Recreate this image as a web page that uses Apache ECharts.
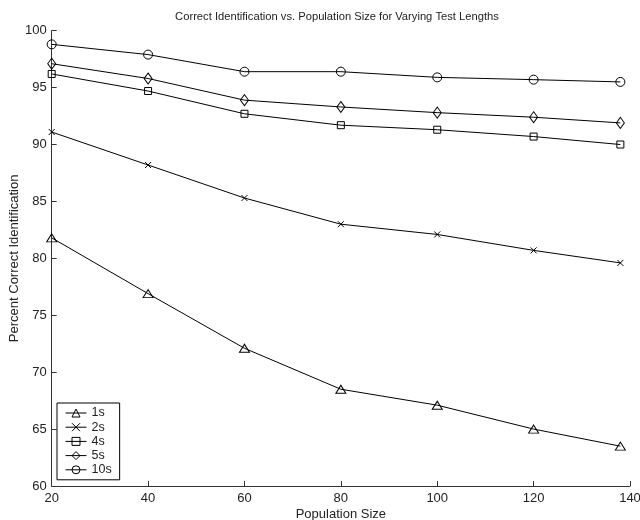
<!DOCTYPE html>
<html>
<head>
<meta charset="utf-8">
<script src="https://cdn.jsdelivr.net/npm/echarts@6/dist/echarts.min.js"></script>
<style>
  html, body { margin: 0; padding: 0; background: #fff; }
  #chart { width: 640px; height: 520px; }
</style>
</head>
<body>
<div id="chart"></div>
<script>
// population sizes on the x axis
let popSizes = [20, 40, 60, 80, 100, 120, 138]

// percent correct identification per test length
let s1 = [81.8, 76.9, 72.1, 68.5, 67.1, 65.0, 63.5]
let s2 = [91.1, 88.2, 85.3, 83.0, 82.1, 80.7, 79.6]
let s4 = [96.2, 94.7, 92.7, 91.7, 91.3, 90.7, 90.0]
let s5 = [97.1, 95.8, 93.9, 93.3, 92.8, 92.4, 91.9]
let s10 = [98.8, 97.9, 96.4, 96.4, 95.9, 95.7, 95.5]

let seriesNames = ['1s', '2s', '4s', '5s', '10s']

let font = 'Liberation Sans, Arial, sans-serif'
let xMark = 'path://M0,0L10,10M10,0L0,10'

function pairs(vals){
	return vals.map(function(v, i){ return [popSizes[i], v] })
}

function mkSeries(name, vals, symbol, size){
	return {
		name: name,
		type: 'line',
		data: pairs(vals),
		symbol: symbol,
		symbolSize: size,
		showAllSymbol: true,
		lineStyle: { color: '#000', width: 1 },
		itemStyle: { color: 'rgba(0,0,0,0)', borderColor: '#000', borderWidth: 1 },
		emphasis: { disabled: true },
		animation: false
	}
}

let myChart = echarts.init(document.getElementById('chart'))
let option = {
	backgroundColor: '#fff',
	animation: false,
	title: {
		text: 'Correct Identification vs. Population Size for Varying Test Lengths',
		left: 332,
		top: 6,
		textAlign: 'center',
		textStyle: { fontFamily: font, fontSize: 11.2, fontWeight: 'normal', color: '#222' }
	},
	legend: {
		orient: 'vertical',
		left: 57,
		top: 403,
		data: seriesNames,
		padding: [3.5, 8, 3.5, 8],
		itemWidth: 21,
		itemHeight: 10,
		itemGap: 1.2,
		itemTextGap: 7,
		borderColor: '#000',
		borderWidth: 1,
		backgroundColor: '#fff',
		lineStyle: { width: 1, color: '#000' },
		itemStyle: { color: 'rgba(0,0,0,0)', borderColor: '#000', borderWidth: 1 },
		textStyle: { fontFamily: font, fontSize: 12.5, color: '#222' }
	},
	grid: {
		left: 51.7,
		right: 10,
		top: 30.7,
		bottom: 34,
		containLabel: false,
		outerBoundsMode: 'none'
	},
	xAxis: {
		type: 'value',
		min: 20,
		max: 140,
		interval: 20,
		name: 'Population Size',
		nameLocation: 'middle',
		nameGap: 22,
		nameMoveOverlap: false,
		nameTextStyle: { fontFamily: font, fontSize: 13, color: '#222' },
		axisLine: { show: true, lineStyle: { color: '#333', width: 1 } },
		axisTick: { show: true, inside: true, length: 5, lineStyle: { color: '#333' } },
		axisLabel: { fontFamily: font, fontSize: 13, color: '#222', margin: 6 },
		splitLine: { show: false }
	},
	yAxis: {
		type: 'value',
		min: 60,
		max: 100,
		interval: 5,
		name: 'Percent Correct Identification',
		nameLocation: 'middle',
		nameGap: 31,
		nameMoveOverlap: false,
		nameTextStyle: { fontFamily: font, fontSize: 13, color: '#222' },
		axisLine: { show: true, lineStyle: { color: '#333', width: 1 } },
		axisTick: { show: true, inside: true, length: 5, lineStyle: { color: '#333' } },
		axisLabel: { fontFamily: font, fontSize: 13, color: '#222', margin: 5 },
		splitLine: { show: false }
	},
	series: [
		mkSeries('1s', s1, 'triangle', [10, 8]),
		mkSeries('2s', s2, xMark, 6),
		mkSeries('4s', s4, 'rect', 7),
		mkSeries('5s', s5, 'diamond', [8, 11]),
		mkSeries('10s', s10, 'circle', 9)
	]
}
myChart.setOption(option)
</script>
</body>
</html>
